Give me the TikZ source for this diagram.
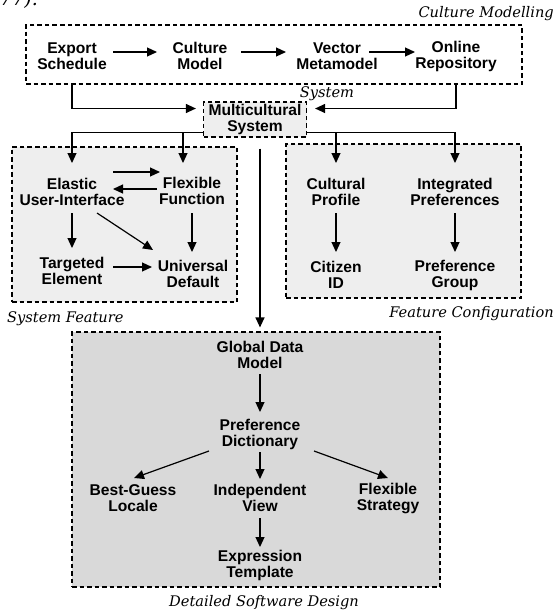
\documentclass[tikz,border=0pt]{standalone}
\usepackage{fontspec}
\usepackage{tikz}
\usetikzlibrary{arrows.meta,calc}
\newfontfamily\boxfont{Liberation Sans}
\newfontfamily\grpserif{DejaVu Serif}
\newcommand{\grpfont}{\grpserif\itshape\fontsize{14.6}{16}\selectfont}
\definecolor{lightfill}{gray}{0.935}
\definecolor{darkfill}{gray}{0.85}

\begin{document}
\begin{tikzpicture}[x=1pt,y=-1pt,
        txt/.style={align=center,inner sep=0pt,font=\boxfont\bfseries\fontsize{15.6}{16}\selectfont},
        grp/.style={draw,line width=1.2pt,dash pattern=on 4.5pt off 3pt,inner sep=0pt},
        grplabel/.style={inner sep=0pt,font=\grpfont},
        arr/.style={line width=1.2pt,-{Triangle[length=10pt,width=9pt]}}]
                \useasboundingbox (0,0) rectangle (557,611);

                \node[grp,minimum width=496,minimum height=59] (cm) at (274,54.5) {};
                \node[grp,fill=lightfill,minimum width=225,minimum height=155] (sf) at (124.5,224.5) {};
                \node[grp,fill=lightfill,minimum width=235,minimum height=154] (fc) at (403.5,221) {};
                \node[grp,fill=darkfill,minimum width=368,minimum height=255] (dsd) at (256,459.5) {};

                \node[grplabel,anchor=base west] (pg) at (0,5) {\fontsize{19}{21}\selectfont 77).};
                \node[grplabel,anchor=base east] (cml) at (554,17) {Culture Modelling};
                \node[grplabel,anchor=base] (msl) at (327,97.5) {System};
                \node[grplabel,anchor=base west] (sfl) at (7,322) {System Feature};
                \node[grplabel,anchor=base east] (fcl) at (554,317) {Feature Configuration};
                \node[grplabel,anchor=base] (dsl) at (264,606.5) {Detailed Software Design};

                \node[txt] (exp) at (72,56) {Export\\Schedule};
                \node[txt] (cul) at (200,56) {Culture\\Model};
                \node[txt] (vec) at (337,56) {Vector\\Metamodel};
                \node[txt] (onl) at (456,56) {Online\\Repository};

                \node[txt,grp,fill=lightfill,minimum width=103,minimum height=35] (mul) at (255,119.5) {Multicultural\\System};

                \node[txt] (ela) at (72,191.5) {Elastic\\User-Interface};
                \node[txt] (fle) at (192,191) {Flexible\\Function};
                \node[txt] (tel) at (72,270.5) {Targeted\\Element};
                \node[txt] (uni) at (193,274) {Universal\\Default};

                \node[txt] (cpr) at (336,191.5) {Cultural\\Profile};
                \node[txt] (ipr) at (455,191.5) {Integrated\\Preferences};
                \node[txt] (cid) at (336,275) {Citizen\\ID};
                \node[txt] (pgr) at (455,275) {Preference\\Group};

                \node[txt] (gdm) at (260,355) {Global Data\\Model};
                \node[txt] (pdi) at (260,434) {Preference\\Dictionary};
                \node[txt] (bgl) at (133,498) {Best-Guess\\Locale};
                \node[txt] (ivw) at (260,498) {Independent\\View};
                \node[txt] (fst) at (388,498) {Flexible\\Strategy};
                \node[txt] (ext) at (260,565) {Expression\\Template};

                \draw[arr] ($(exp)+(41,-4)$) -- ($(cul)+(-43,-4)$);
                \draw[arr] ($(cul)+(41,-4)$) -- ($(vec)+(-51,-4)$);
                \draw[arr] ($(vec)+(32,-4)$) -- ($(onl)+(-41,-4)$);

                \draw[arr] (exp |- cm.south) |- ($(mul.west)+(-7,-11)$);
                \draw[arr] (onl |- cm.south) |- ($(mul.east)+(8,-11)$);

                \draw[arr] ($(mul.west)+(0,13)$) -| ($(ela)+(0,-28.5)$);
                \draw[arr] ($(mul.west)+(0,13)$) -| ($(fle)+(-9,-28)$);
                \draw[arr] ($(mul.east)+(0,13)$) -| ($(cpr)+(0,-28.5)$);
                \draw[arr] ($(mul.east)+(0,13)$) -| ($(ipr)+(0,-28.5)$);
                \draw[arr] ($(mul.south -| gdm)+(0,11)$) -- ($(dsd.north -| gdm)+(0,-4)$);

                \draw[arr] ($(ela)+(41,-19.5)$) -- ($(fle)+(-32,-19)$);
                \draw[arr] ($(fle)+(-35,-2)$) -- ($(ela)+(41,-2.5)$);
                \draw[arr] ($(ela)+(0,21.5)$) -- ($(tel)+(0,-22.5)$);
                \draw[arr] ($(fle)+(0,22)$) -- ($(fle |- uni)+(0,-22)$);
                \draw[arr] ($(ela)+(25,21.5)$) -- ($(uni)+(-40,-24)$);
                \draw[arr] ($(tel)+(41,-3.5)$) -- ($(uni)+(-41,-7)$);

                \draw[arr] ($(cpr)+(0,21.5)$) -- ($(cid)+(0,-23)$);
                \draw[arr] ($(ipr)+(0,21.5)$) -- ($(pgr)+(0,-23)$);

                \draw[arr] ($(gdm)+(0,19)$) -- ($(pdi)+(0,-22)$);
                \draw[arr] ($(pdi)+(-51,17)$) -- ($(bgl)+(1,-20)$);
                \draw[arr] ($(pdi)+(0,18)$) -- ($(ivw)+(0,-19)$);
                \draw[arr] ($(pdi)+(54,17)$) -- ($(fst)+(0,-20)$);
                \draw[arr] ($(ivw)+(0,20)$) -- ($(ext)+(0,-18)$);
            \end{tikzpicture}
\end{document}
